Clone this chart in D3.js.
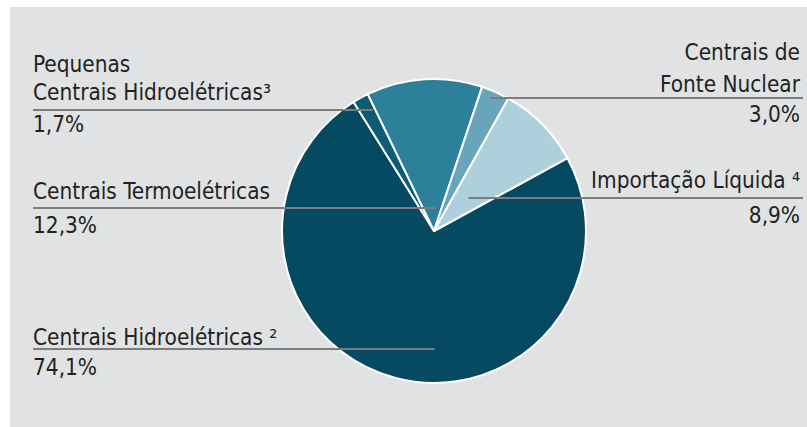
<!DOCTYPE html>
<html><head><meta charset="utf-8">
<script src="https://cdn.jsdelivr.net/npm/d3@7"></script>
<style>body{margin:0;background:#fff}svg{display:block}</style>
</head><body>
<svg id="c" width="807" height="427"></svg>
<script>
// ---- data ----
const categories = ["Centrais Hidroelétricas ²", "Pequenas Centrais Hidroelétricas³", "Centrais Termoelétricas", "Centrais de Fonte Nuclear", "Importação Líquida ⁴"];
const values = [74.1, 1.7, 12.3, 3.0, 8.9];
const valueLabels = ["74,1%", "1,7%", "12,3%", "3,0%", "8,9%"];
const labelLines = [["Centrais Hidroelétricas ²"], ["Pequenas", "Centrais Hidroelétricas³"], ["Centrais Termoelétricas"], ["Centrais de", "Fonte Nuclear"], ["Importação Líquida ⁴"]];
const colors = ["#064a62", "#0c5c75", "#2c8099", "#68a5ba", "#aecfdc"];

// ---- layout ----
const W = 807, H = 427;
const cx = 434, cy = 231, R = 152;
const startDeg = 61.3;
const font = "'Liberation Sans Narrow','DejaVu Sans Condensed',sans-serif";
const fs = 22.4;
// per-label layout: side, first baseline, line y, value baseline, anchor fraction in slice, radius ratio
const layout = [
  {side: "left", x: 33, base: [345], lineY: 349, valY: 375, t: 0.444, rr: 0.78},
  {side: "left", x: 33, base: [72, 100], lineY: 110, valY: 132, t: 0.8, rr: 0.89},
  {side: "left", x: 33, base: [199], lineY: 208, valY: 233, t: 0.65, rr: 0.15},
  {side: "right", x: 800, xEnd: 803, base: [60, 92], lineY: 98, valY: 122, t: 0.4, rr: 0.95},
  {side: "right", x: 800, xEnd: 803, base: [188], lineY: 198, valY: 223, t: 0.5, rr: 0.32}
];

const svg = d3.select("#c");
svg.append("rect").attr("x", 10).attr("y", 7).attr("width", W - 10).attr("height", H - 7).attr("fill", "#e1e2e4");

const s0 = startDeg * Math.PI / 180;
const pie = d3.pie().sort(null).value(d => d).startAngle(s0).endAngle(s0 + 2 * Math.PI);
const arcs = pie(values);
const arc = d3.arc().innerRadius(0).outerRadius(R);

const g = svg.append("g").attr("transform", `translate(${cx},${cy})`);
g.selectAll("path").data(arcs).join("path")
  .attr("d", arc).attr("fill", (d, i) => colors[i])
  .attr("stroke", "#fff").attr("stroke-width", 2).attr("stroke-linejoin", "round");

// leader lines
arcs.forEach((a, i) => {
  const L = layout[i];
  const ang = a.startAngle + (a.endAngle - a.startAngle) * L.t;
  const ex = cx + Math.sin(ang) * R * L.rr;
  const x0 = L.side === "left" ? L.x : L.xEnd;
  svg.append("line").attr("x1", x0).attr("x2", ex).attr("y1", L.lineY).attr("y2", L.lineY)
    .attr("stroke", "#7d7d7d").attr("stroke-width", 2);
});

// labels
const tg = svg.append("g").attr("font-family", font).attr("font-size", fs).attr("fill", "#222");
labelLines.forEach((lines, i) => {
  const L = layout[i];
  const anchor = L.side === "left" ? "start" : "end";
  lines.forEach((t, j) => {
    tg.append("text").attr("x", L.x).attr("y", L.base[j]).attr("text-anchor", anchor).text(t);
  });
  tg.append("text").attr("x", L.x).attr("y", L.valY).attr("text-anchor", anchor).text(valueLabels[i]);
});
</script>
</body></html>
